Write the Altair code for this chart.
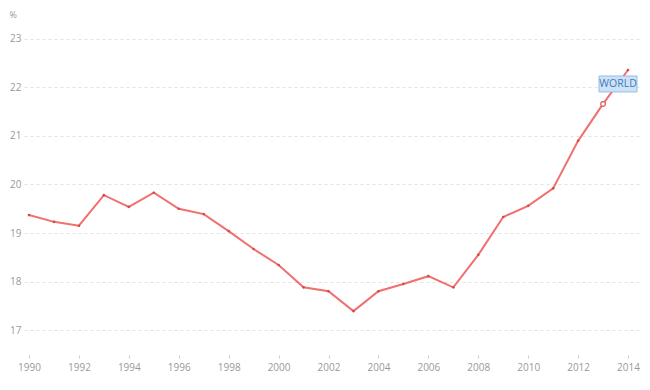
import altair as alt
import pandas as pd

years = list(range(1990, 2015))
values = [19.37, 19.23, 19.15, 19.78, 19.54, 19.83, 19.50, 19.39, 19.04, 18.67,
          18.34, 17.88, 17.80, 17.39, 17.80, 17.95, 18.11, 17.88, 18.55, 19.33,
          19.56, 19.92, 20.90, 21.66, 22.36]
x_ticks = list(range(1990, 2015, 2))
y_ticks = [17, 18, 19, 20, 21, 22, 23]
series_label = "WORLD"
highlight_year = 2013

df = pd.DataFrame({"year": years, "value": values})
hl = df[df["year"] == highlight_year]
lab = df[df["year"] == years[-1]].assign(label=series_label)

font = "Open Sans"
xs = alt.Scale(domain=[1989.8, 2014.56], nice=False, zero=False)
ys = alt.Scale(domain=[16.63, 23.39], nice=False, zero=False)

base = alt.Chart(df).encode(
    x=alt.X("year:Q", scale=xs,
            axis=alt.Axis(values=x_ticks, format="d", grid=False, domain=False,
                          tickSize=3, tickColor="#cccccc", offset=7, labelPadding=4,
                          labelColor="#999999", labelFont=font, labelFontSize=10,
                          title=None)),
    y=alt.Y("value:Q", scale=ys,
            axis=alt.Axis(values=y_ticks, grid=True, gridDash=[3, 3], gridColor="#e3e3e3",
                          domain=False, ticks=False, labelPadding=3,
                          labelColor="#999999", labelFont=font, labelFontSize=10,
                          title="%", titleAngle=0, titleX=-15, titleY=-10,
                          titleAlign="left", titleBaseline="top",
                          titleFont=font, titleFontSize=9, titleFontWeight="normal",
                          titleColor="#999999")),
)

line = base.mark_line(color="#f07070", strokeWidth=2)
pts = base.mark_point(filled=True, color="#d84a4a", size=7, opacity=1)

hl_pt = alt.Chart(hl).mark_point(shape="circle", size=22, filled=True, fill="white",
                                 stroke="#e05a5a", strokeWidth=1.2, opacity=1).encode(
    x=alt.X("year:Q", scale=xs), y=alt.Y("value:Q", scale=ys))

box = alt.Chart(lab).mark_point(
    shape="M-1,-0.42H1V0.42H-1Z", size=1444, filled=True, fill="#cfe2f5",
    stroke="#93bde3", strokeWidth=1, opacity=1, xOffset=-10, yOffset=14
).encode(x=alt.X("year:Q", scale=xs), y=alt.Y("value:Q", scale=ys))

txt = alt.Chart(lab).mark_text(
    font=font, fontSize=10.5, color="#3a7cbf", xOffset=-10, yOffset=14,
    align="center", baseline="middle"
).encode(x=alt.X("year:Q", scale=xs), y=alt.Y("value:Q", scale=ys), text="label:N")

chart = alt.layer(line, pts, hl_pt, box, txt).properties(
    width=618, height=328,
    autosize=alt.AutoSizeParams(type="none"),
    padding={"left": 16, "top": 12, "right": 0, "bottom": 30},
).configure_view(stroke=None)

chart.save("out.html", embed_options={"renderer": "svg", "actions": False})
